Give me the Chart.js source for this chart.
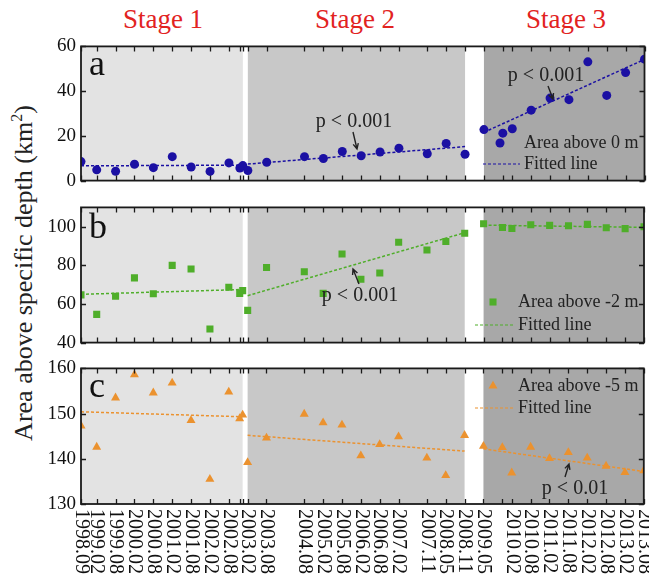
<!DOCTYPE html>
<html>
<head>
<meta charset="utf-8">
<script src="https://cdn.jsdelivr.net/npm/chart.js@4.4.1/dist/chart.umd.min.js"></script>
<style>
  html, body { margin: 0; padding: 0; background: #fff; }
  #wrap { position: relative; width: 649px; height: 576px; overflow: hidden; font-family: "Liberation Serif", "Times New Roman", serif; }
  canvas { position: absolute; left: 0; }
  .stage { position: absolute; top: 6px; color: #e2231f; font-family: "Liberation Serif", "Times New Roman", serif; font-size: 27px; line-height: 1; transform: translateX(-50%); white-space: nowrap; }
  #ytitle { position: absolute; left: 23px; top: 273px; font-family: "Liberation Serif", "Times New Roman", serif; font-size: 26px; line-height: 1; color: #222; white-space: nowrap;
            transform: translate(-50%, -50%) rotate(-90deg); }
  #ytitle sup { font-size: 16px; }
</style>
</head>
<body>
<div id="wrap">
  <div class="stage" style="left:163px">Stage 1</div>
  <div class="stage" style="left:355px">Stage 2</div>
  <div class="stage" style="left:566px">Stage 3</div>
  <div id="ytitle">Area above specific depth (km<sup>2</sup>)</div>
  <canvas id="ca" width="649" height="167" style="top:30px"></canvas>
  <canvas id="cb" width="649" height="168" style="top:191px"></canvas>
  <canvas id="cc" width="649" height="224" style="top:352px"></canvas>
</div>
<script>
// survey dates as decimal years (year + (month-1)/12)
const dates = [1998.667, 1999.083, 1999.583, 2000.083, 2000.583, 2001.083, 2001.583, 2002.083, 2002.583, 2002.872, 2002.951,
               2003.083, 2003.583, 2004.583, 2005.083, 2005.583, 2006.083, 2006.583, 2007.083, 2007.833, 2008.333, 2008.833,
               2009.333, 2009.833, 2010.083, 2010.583, 2011.083, 2011.583, 2012.083, 2012.583, 2013.083, 2013.583]

// area above 0 m, -2 m, -5 m (km2)
const above0 = [8.5, 4.8, 4.2, 7.3, 5.8, 10.7, 6.1, 4.1, 7.9, 5.6, 6.7,
                4.5, 8.2, 10.7, 9.9, 13.0, 11.1, 12.8, 14.5, 12.0, 16.6, 11.8,
                22.8, 21.2, 23.2, 31.5, 36.9, 36.2, 53.1, 38.1, 48.3, 54.3]
const aboveM2 = [64.7, 54.6, 64.0, 73.5, 65.3, 80.0, 78.1, 47.0, 68.7, 65.5, 66.9,
                 56.7, 78.9, 76.7, 65.5, 85.9, 72.8, 76.0, 92.0, 87.9, 92.3, 96.6,
                 101.5, 99.6, 99.1, 101.0, 100.7, 100.5, 101.2, 99.5, 99.0, 100.0]
const aboveM5 = [147.3, 142.6, 153.5, 158.6, 154.6, 156.8, 148.5, 135.5, 154.8, 148.9, 149.7,
                 139.2, 144.6, 149.9, 148.0, 147.5, 140.7, 143.2, 144.9, 140.2, 136.3, 145.2,
                 142.8, 142.5, 136.9, 142.6, 140.1, 141.4, 140.2, 138.4, 137.0, 137.4]

// fitted line end values per stage
const fit0  = [[6.6, 6.9], [7.4, 15.2], [21.6, 54.2]]
const fitM2 = [[65.0, 67.5], [64.3, 96.9], [100.8, 99.7]]
const fitM5 = [[150.4, 149.3], [145.2, 141.7], [142.2, 137.2]]

const stages = [[1998.667, 2002.951], [2003.083, 2008.833], [2009.333, 2013.583]]

const xTickLabels = ['1998.09', '1999.02', '1999.08', '2000.02', '2000.08', '2001.02', '2001.08', '2002.02', '2002.08',
                     '2003.02', '2003.08', '2004.08', '2005.02', '2005.08', '2006.02', '2006.08', '2007.02', '2007.11',
                     '2008.05', '2008.11', '2009.05', '2010.02', '2010.08', '2011.02', '2011.08', '2012.02', '2012.08',
                     '2013.02', '2013.08']
const yTicksA = [0, 20, 40, 60]
const yTicksB = [40, 60, 80, 100]
const yTicksC = [130, 140, 150, 160]

const FONT = '"Liberation Serif", "Times New Roman", serif'
const stageFills = ['#e3e3e3', '#c8c8c8', '#a8a8a8']
const xMin = 1998.667, xMax = 2013.583

function labelValue(s) {
    const [y, m] = s.split('.').map(Number)
    return y + (m - 1) / 12
}

function arrow(ctx, x1, y1, x2, y2) {
    const a = Math.atan2(y2 - y1, x2 - x1)
    ctx.beginPath()
    ctx.moveTo(x1, y1)
    ctx.lineTo(x2, y2)
    ctx.moveTo(x2 - 6 * Math.cos(a - 0.45), y2 - 6 * Math.sin(a - 0.45))
    ctx.lineTo(x2, y2)
    ctx.lineTo(x2 - 6 * Math.cos(a + 0.45), y2 - 6 * Math.sin(a + 0.45))
    ctx.stroke()
}

function makePlugin(cfg) {
    return {
        id: 'panel',
        beforeDatasetsDraw(chart) {
            const { ctx, chartArea: { top, bottom }, scales: { x } } = chart
            ctx.save()
            stages.forEach((b, k) => {
                const x1 = x.getPixelForValue(b[0]), x2 = x.getPixelForValue(b[1])
                ctx.fillStyle = stageFills[k]
                ctx.fillRect(x1, top, x2 - x1, bottom - top)
            })
            ctx.restore()
        },
        afterDatasetsDraw(chart) {
            const { ctx, chartArea: { left, top, right, bottom }, scales: { x, y } } = chart
            ctx.save()
            // frame and inward ticks
            ctx.strokeStyle = '#1a1a1a'
            ctx.lineWidth = 1.8
            ctx.strokeRect(left, top, right - left, bottom - top)
            ctx.lineWidth = 1.3
            ctx.beginPath()
            dates.forEach(d => {
                const px = Math.round(x.getPixelForValue(d)) + 0.5
                ctx.moveTo(px, bottom); ctx.lineTo(px, bottom - 5)
                ctx.moveTo(px, top); ctx.lineTo(px, top + 5)
            })
            cfg.yTicks.forEach(v => {
                const py = Math.round(y.getPixelForValue(v)) + 0.5
                ctx.moveTo(left, py); ctx.lineTo(left + 5, py)
                ctx.moveTo(right, py); ctx.lineTo(right - 5, py)
            })
            ctx.stroke()

            // page coordinates from here on
            ctx.translate(0, -cfg.offset)

            // panel letter
            ctx.fillStyle = '#111'
            ctx.font = '36px ' + FONT
            ctx.textBaseline = 'alphabetic'
            ctx.fillText(cfg.letter, 89, cfg.letterY)

            // legend
            const L = cfg.legend
            ctx.fillStyle = cfg.color
            Chart.helpers.drawPoint(ctx, { pointStyle: cfg.marker, radius: cfg.radius, rotation: 0, borderWidth: 0 }, L.mx, L.y1)
            ctx.strokeStyle = cfg.color
            ctx.lineWidth = 1.2
            ctx.setLineDash([3, 2])
            ctx.beginPath(); ctx.moveTo(L.lx1, L.y2); ctx.lineTo(L.lx2, L.y2); ctx.stroke()
            ctx.setLineDash([])
            ctx.fillStyle = '#222'
            ctx.font = '18px ' + FONT
            ctx.textBaseline = 'middle'
            ctx.fillText(cfg.name, L.tx, L.y1)
            ctx.fillText('Fitted line', L.tx, L.y2)

            // significance notes
            ctx.font = '20px ' + FONT
            ctx.textAlign = 'center'
            ctx.strokeStyle = '#222'
            ctx.lineWidth = 1.4
            cfg.notes.forEach(n => {
                ctx.fillText(n.text, n.x, n.y)
                arrow(ctx, n.a[0], n.a[1], n.a[2], n.a[3])
            })
            ctx.restore()
        },
        afterDraw(chart) {
            if (!cfg.xLabels) return
            const { ctx, chartArea: { bottom }, scales: { x } } = chart
            ctx.save()
            ctx.fillStyle = '#111'
            ctx.font = '20px ' + FONT
            ctx.textAlign = 'left'
            ctx.textBaseline = 'middle'
            xTickLabels.forEach(s => {
                ctx.save()
                ctx.translate(x.getPixelForValue(labelValue(s)), bottom + 5)
                ctx.rotate(Math.PI / 2)
                ctx.fillText(s, 0, 0)
                ctx.restore()
            })
            ctx.restore()
        }
    }
}

function panel(id, cfg) {
    const fitSets = stages.map((b, k) => ({
        type: 'line',
        data: [{ x: b[0], y: cfg.fit[k][0] }, { x: b[1], y: cfg.fit[k][1] }],
        borderColor: cfg.color,
        borderWidth: 1.5,
        borderDash: [3, 2],
        pointRadius: 0,
        fill: false
    }))
    return new Chart(document.getElementById(id), {
        type: 'scatter',
        data: {
            datasets: [{
                data: dates.map((d, i) => ({ x: d, y: cfg.values[i] })),
                pointStyle: cfg.marker,
                pointRadius: cfg.radius,
                backgroundColor: cfg.color,
                borderWidth: 0
            }, ...fitSets]
        },
        options: {
            responsive: false,
            animation: false,
            events: [],
            layout: { padding: { left: 0, right: 4, top: 15, bottom: cfg.padBottom } },
            plugins: { legend: { display: false }, tooltip: { enabled: false } },
            scales: {
                x: { type: 'linear', min: xMin, max: xMax, display: false },
                y: {
                    min: cfg.min, max: cfg.max,
                    afterFit: s => { s.width = 81 },
                    afterBuildTicks: s => { s.ticks = cfg.yTicks.map(v => ({ value: v })) },
                    grid: { display: false, drawTicks: false },
                    border: { display: false },
                    ticks: { font: { family: FONT, size: 19 }, color: '#111', padding: 5 }
                }
            }
        },
        plugins: [makePlugin(cfg)]
    })
}

panel('ca', {
    values: above0, fit: fit0, min: 0, max: 60, yTicks: yTicksA,
    color: '#1b10a3', marker: 'circle', radius: 4.5, padBottom: 15, offset: 30,
    letter: 'a', letterY: 75, name: 'Area above 0 m',
    legend: { mx: 500, y1: 143, lx1: 483, lx2: 520, y2: 164, tx: 524 },
    notes: [
        { text: 'p < 0.001', x: 354, y: 122, a: [353, 132, 357, 149] },
        { text: 'p < 0.001', x: 546, y: 76, a: [548, 86, 553, 99] }
    ]
})
panel('cb', {
    values: aboveM2, fit: fitM2, min: 40, max: 110, yTicks: yTicksB,
    color: '#4fae2a', marker: 'rect', radius: 5, padBottom: 15, offset: 191,
    letter: 'b', letterY: 238, name: 'Area above -2 m',
    legend: { mx: 493, y1: 302, lx1: 475, lx2: 513, y2: 325, tx: 518 },
    notes: [
        { text: 'p < 0.001', x: 360, y: 296, a: [359, 284, 353, 269] }
    ]
})
panel('cc', {
    values: aboveM5, fit: fitM5, min: 130, max: 160, yTicks: yTicksC,
    color: '#eb922f', marker: 'triangle', radius: 5.2, padBottom: 72, offset: 352,
    letter: 'c', letterY: 397, name: 'Area above -5 m', xLabels: true,
    legend: { mx: 493, y1: 386, lx1: 475, lx2: 513, y2: 408, tx: 518 },
    notes: [
        { text: 'p < 0.01', x: 575, y: 489, a: [565, 477, 569, 464] }
    ]
})
</script>
</body>
</html>
